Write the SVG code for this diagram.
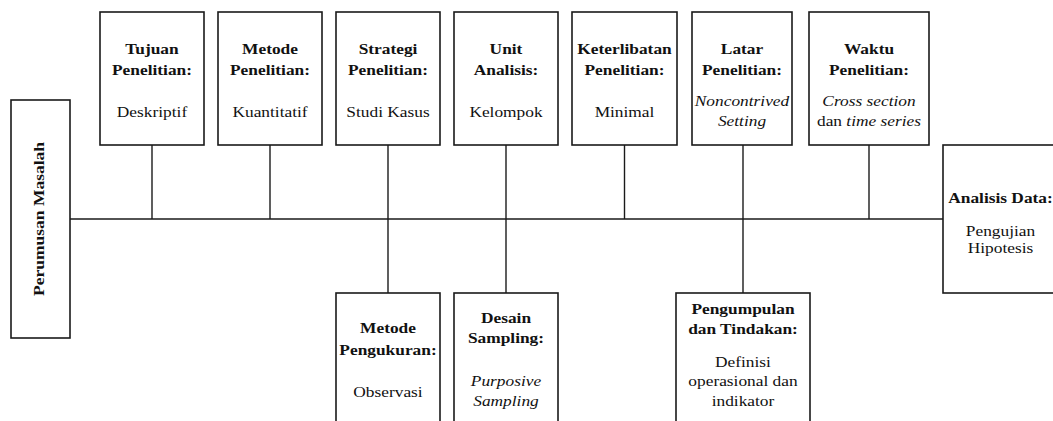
<svg xmlns="http://www.w3.org/2000/svg" width="1053" height="421" viewBox="0 0 1053 421">
<style>
.box{fill:#fff;stroke:#1a1a1a;stroke-width:1.6}
.ln{stroke:#1a1a1a;stroke-width:1.4;fill:none}
text{fill:#111;text-anchor:middle;font-size:15.5px}
.b{font-weight:bold}
.i{font-style:italic}
</style>
<rect width="1053" height="421" fill="#fff"/>
<g id="connectors">
<line class="ln" x1="70" y1="219" x2="943" y2="219"/>
<line class="ln" x1="152" y1="145" x2="152" y2="219"/>
<line class="ln" x1="270" y1="145" x2="270" y2="219"/>
<line class="ln" x1="388" y1="145" x2="388" y2="293"/>
<line class="ln" x1="506" y1="145" x2="506" y2="293"/>
<line class="ln" x1="624.5" y1="145" x2="624.5" y2="219"/>
<line class="ln" x1="743" y1="145" x2="743" y2="293"/>
<line class="ln" x1="869" y1="145" x2="869" y2="219"/>
</g>
<g id="perumusan">
<rect class="box" x="11" y="100" width="59" height="238"/>
<text class="b" font-family="Liberation Serif, serif" transform="translate(43.5,219) rotate(-90) scale(1.13,1)" x="0" y="0">Perumusan Masalah</text>
</g>
<g id="tujuan">
<rect class="box" x="100" y="12" width="104" height="133"/>
<g transform="translate(152,0) scale(1.12,1)">
<text class="b" font-family="Liberation Serif, serif" x="0" y="54">Tujuan</text>
<text class="b" font-family="Liberation Serif, serif" x="0" y="75">Penelitian:</text>
<text font-family="Liberation Serif, serif" x="0" y="117">Deskriptif</text>
</g>
</g>
<g id="metode">
<rect class="box" x="218" y="12" width="104" height="133"/>
<g transform="translate(270,0) scale(1.12,1)">
<text class="b" font-family="Liberation Serif, serif" x="0" y="54">Metode</text>
<text class="b" font-family="Liberation Serif, serif" x="0" y="75">Penelitian:</text>
<text font-family="Liberation Serif, serif" x="0" y="117">Kuantitatif</text>
</g>
</g>
<g id="strategi">
<rect class="box" x="336" y="12" width="104" height="133"/>
<g transform="translate(388,0) scale(1.12,1)">
<text class="b" font-family="Liberation Serif, serif" x="0" y="54">Strategi</text>
<text class="b" font-family="Liberation Serif, serif" x="0" y="75">Penelitian:</text>
<text font-family="Liberation Serif, serif" x="0" y="117">Studi Kasus</text>
</g>
</g>
<g id="unit">
<rect class="box" x="454" y="12" width="104" height="133"/>
<g transform="translate(506,0) scale(1.12,1)">
<text class="b" font-family="Liberation Serif, serif" x="0" y="54">Unit</text>
<text class="b" font-family="Liberation Serif, serif" x="0" y="75">Analisis:</text>
<text font-family="Liberation Serif, serif" x="0" y="117">Kelompok</text>
</g>
</g>
<g id="keterlibatan">
<rect class="box" x="572" y="12" width="105" height="133"/>
<g transform="translate(624.5,0) scale(1.12,1)">
<text class="b" font-family="Liberation Serif, serif" x="0" y="54">Keterlibatan</text>
<text class="b" font-family="Liberation Serif, serif" x="0" y="75">Penelitian:</text>
<text font-family="Liberation Serif, serif" x="0" y="117">Minimal</text>
</g>
</g>
<g id="latar">
<rect class="box" x="692" y="12" width="100" height="133"/>
<g transform="translate(742,0) scale(1.12,1)">
<text class="b" font-family="Liberation Serif, serif" x="0" y="54">Latar</text>
<text class="b" font-family="Liberation Serif, serif" x="0" y="75">Penelitian:</text>
<text class="i" font-family="Liberation Serif, serif" x="0" y="106">Noncontrived</text>
<text class="i" font-family="Liberation Serif, serif" x="0" y="126">Setting</text>
</g>
</g>
<g id="waktu">
<rect class="box" x="809" y="12" width="120" height="133"/>
<g transform="translate(869,0) scale(1.12,1)">
<text class="b" font-family="Liberation Serif, serif" x="0" y="54">Waktu</text>
<text class="b" font-family="Liberation Serif, serif" x="0" y="75">Penelitian:</text>
<text class="i" font-family="Liberation Serif, serif" x="0" y="106">Cross section</text>
<text font-family="Liberation Serif, serif" x="0" y="126">dan <tspan class="i">time series</tspan></text>
</g>
</g>
<g id="analisis">
<rect class="box" x="943" y="145" width="120" height="148"/>
<g transform="translate(1000.5,0) scale(1.12,1)">
<text class="b" font-family="Liberation Serif, serif" x="0" y="203">Analisis Data:</text>
<text font-family="Liberation Serif, serif" x="0" y="236">Pengujian</text>
<text font-family="Liberation Serif, serif" x="0" y="253">Hipotesis</text>
</g>
</g>
<g id="pengukuran">
<rect class="box" x="336" y="293" width="104" height="140"/>
<g transform="translate(388,0) scale(1.12,1)">
<text class="b" font-family="Liberation Serif, serif" x="0" y="333">Metode</text>
<text class="b" font-family="Liberation Serif, serif" x="0" y="355">Pengukuran:</text>
<text font-family="Liberation Serif, serif" x="0" y="397">Observasi</text>
</g>
</g>
<g id="sampling">
<rect class="box" x="454" y="293" width="104" height="140"/>
<g transform="translate(506,0) scale(1.12,1)">
<text class="b" font-family="Liberation Serif, serif" x="0" y="323">Desain</text>
<text class="b" font-family="Liberation Serif, serif" x="0" y="343">Sampling:</text>
<text class="i" font-family="Liberation Serif, serif" x="0" y="386">Purposive</text>
<text class="i" font-family="Liberation Serif, serif" x="0" y="406">Sampling</text>
</g>
</g>
<g id="pengumpulan">
<rect class="box" x="676" y="293" width="134" height="140"/>
<g transform="translate(743,0) scale(1.12,1)">
<text class="b" font-family="Liberation Serif, serif" x="0" y="314">Pengumpulan</text>
<text class="b" font-family="Liberation Serif, serif" x="0" y="334">dan Tindakan:</text>
<text font-family="Liberation Serif, serif" x="0" y="367">Definisi</text>
<text font-family="Liberation Serif, serif" x="0" y="386">operasional dan</text>
<text font-family="Liberation Serif, serif" x="0" y="406">indikator</text>
</g>
</g>
</svg>
